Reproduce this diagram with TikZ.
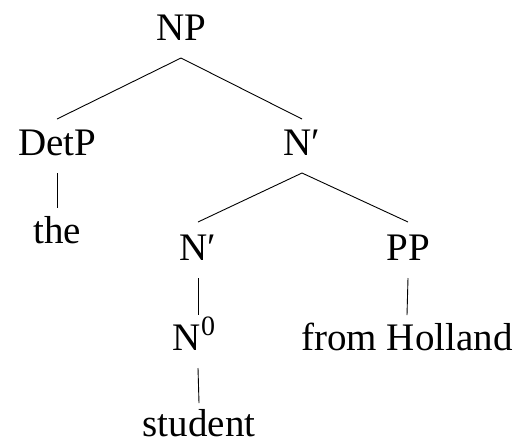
\documentclass[tikz,border=0pt]{standalone}
\usepackage{fontspec}
\setmainfont{Liberation Serif}
\newcommand{\zerosup}{\raisebox{15pt}{\fontsize{28}{28}\selectfont 0}}
\newcommand{\pr}{\char"2032}
\begin{document}
\begin{tikzpicture}[x=1pt,y=-1pt,
  lbl/.style={anchor=base,inner sep=0pt,font=\fontsize{39}{40}\selectfont},
  edge/.style={line width=0.9pt}]
\useasboundingbox (0,0) rectangle (521,440);
\node[lbl] (np)    at (181,40)  {NP};
\node[lbl] (detp)  at (57,155)  {DetP};
\node[lbl] (nbar1) at (302,155) {N\pr};
\node[lbl] (the)   at (57,243)  {the};
\node[lbl] (nbar2) at (198,260) {N\pr};
\node[lbl] (pp)    at (408,260) {PP};
\node[lbl] (n0)    at (194,350) {N\zerosup};
\node[lbl] (fh)    at (407,350) {from Holland};
\node[lbl] (stud)  at (199,436) {student};
\draw[edge] ([yshift=-18pt]np.base) -- ([yshift=36pt]detp.base);
\draw[edge] ([yshift=-18pt]np.base) -- ([yshift=36pt]nbar1.base);
\draw[edge] ([yshift=-18pt]detp.base) -- ([yshift=35pt]the.base);
\draw[edge] ([yshift=-18pt]nbar1.base) -- ([yshift=38pt]nbar2.base);
\draw[edge] ([yshift=-18pt]nbar1.base) -- ([yshift=38pt]pp.base);
\draw[edge] ([yshift=-18pt]nbar2.base) -- ([xshift=4pt,yshift=35pt]n0.base);
\draw[edge] ([yshift=-18pt]pp.base) -- ([yshift=35pt]fh.base);
\draw[edge] ([xshift=4pt,yshift=-18pt]n0.base) -- ([yshift=33pt]stud.base);
\end{tikzpicture}
\end{document}
